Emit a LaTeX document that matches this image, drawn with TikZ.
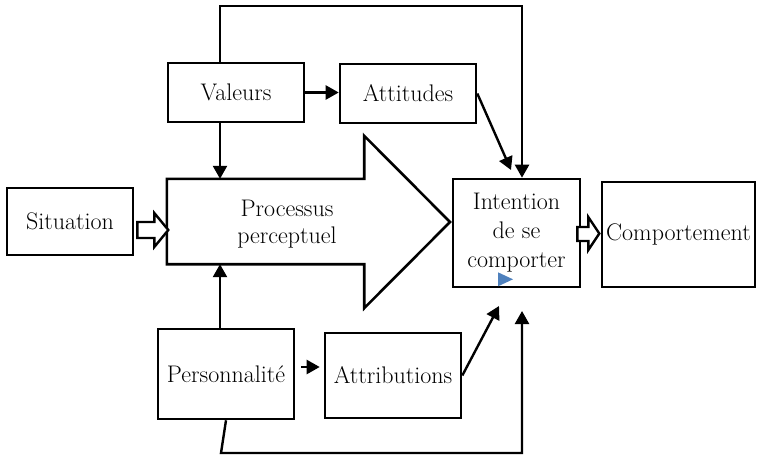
\documentclass[tikz,border=0pt]{standalone}
\usetikzlibrary{arrows.meta,calc}
\definecolor{mblue}{HTML}{4F81BD}
\begin{document}
\begin{tikzpicture}[x=1pt,y=-1pt,
  box/.style={draw, line width=2.6pt, rectangle, inner sep=0pt, align=center, font=\fontsize{24}{29}\selectfont},
  txt/.style={inner sep=0pt, align=center, font=\fontsize{24}{27.5}\selectfont},
  conn/.style={line width=2.4pt, -{Triangle[length=13pt,width=14pt]}},
  hollow/.style={draw, line width=2.4pt, fill=white, line join=miter},
  bigarrow/.style={draw, line width=2.6pt, line join=miter}]
\useasboundingbox (0,0) rectangle (757,455);

% boxes
\node[box, minimum width=126pt, minimum height=67pt] (sit) at (70,221.5) {Situation};
\node[box, minimum width=136pt, minimum height=59pt] (val) at (236,92.5) {Valeurs};
\node[box, minimum width=136pt, minimum height=59pt] (att) at (408,93.5) {Attitudes};
\node[box, minimum width=127pt, minimum height=108pt] (int) at (516.5,233) {Intention\\de se\\comporter};
\node[box, minimum width=153pt, minimum height=105pt] (comp) at (678.5,234.5) {Comportement};
\node[box, minimum width=136pt, minimum height=90pt] (pers) at (226,374) {Personnalit\'e};
\node[box, minimum width=136pt, minimum height=85pt] (attr) at (393,375.5) {Attributions};

% big arrow (processus perceptuel)
\node[minimum width=197pt, minimum height=85pt, inner sep=0pt] (proc) at (265.5,221.5) {};
\draw[bigarrow] (proc.north west) -- (proc.north east) -- ++(0,-43) -- (450,222)
  -- ($(proc.south east)+(0,44)$) -- (proc.south east) -- (proc.south west) -- cycle;
\node[txt] (proct) at (287,224) {Processus\\perceptuel};

% blue marker
\fill[mblue] ($(int.south)+(-18.5,-16)$) -- ++(15,7) -- ++(-15,7) -- cycle;

% named free ends
\coordinate (top) at (522,6);
\coordinate (a2i) at (511,170);
\coordinate (r2i) at (499,306);
\coordinate (b1) at (221,453);
\coordinate (b2) at (522,311);

% connectors
\draw[conn] ([xshift=-16pt]val.north) |- (top) -- (top |- int.north);
\draw[conn] (val.east) -- (val.east -| att.west);
\draw[conn] ([xshift=-16pt]val.south) -- ([xshift=-16pt]val.south |- proc.north);
\draw[conn] (att.east) -- (a2i);
\draw[conn] ([xshift=-6pt]pers.north) -- ([xshift=-6pt]pers.north |- proc.south);
\draw[conn, shorten <=6pt, shorten >=4pt] ([yshift=7pt]pers.east) -- ([yshift=7pt]pers.east -| attr.west);
\draw[conn] (attr.east) -- (r2i);
\draw[conn] (pers.south) -- (b1) -| (b2);

% hollow block arrows
\draw[hollow] ($(sit.east)+(3,0.5)$) -- ($(sit.east)+(20,0.5)$) -- ($(sit.east)+(20,-8.5)$)
  -- ($(sit.east)+(34,8.5)$) -- ($(sit.east)+(20,25.5)$) -- ($(sit.east)+(20,16.5)$)
  -- ($(sit.east)+(3,16.5)$) -- cycle;
\draw[hollow] ($(int.east)+(-4,-6)$) -- ($(int.east)+(7,-6)$) -- ($(int.east)+(7,-16)$)
  -- ($(int.east)+(18,0.5)$) -- ($(int.east)+(7,17)$) -- ($(int.east)+(7,8)$)
  -- ($(int.east)+(-4,8)$) -- cycle;
\end{tikzpicture}
\end{document}
